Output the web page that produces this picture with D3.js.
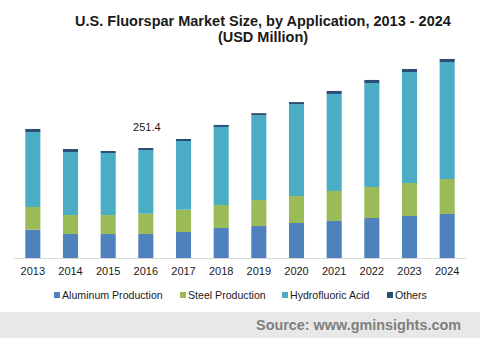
<!DOCTYPE html>
<html><head><meta charset="utf-8">
<script src="https://cdn.jsdelivr.net/npm/d3@7"></script>
<style>body{margin:0;background:#fff;}svg{display:block;font-family:"Liberation Sans",Arial,sans-serif;}</style>
</head><body><svg id="c" width="480" height="338"></svg>
<script>
const years = ["2013","2014","2015","2016","2017","2018","2019","2020","2021","2022","2023","2024"];
const aluminum = [64.7, 54.8, 54.8, 54.8, 59.4, 68.6, 73.0, 80.0, 84.6, 91.4, 96.0, 100.6];
const steel = [51.9, 43.4, 43.4, 46.4, 51.0, 52.6, 59.4, 61.7, 68.6, 70.9, 75.4, 80.0];
const hydrofluoric = [171.4, 144.0, 141.7, 145.6, 157.0, 178.3, 194.0, 210.0, 221.7, 237.7, 253.7, 267.4];
const others = [6.9, 6.9, 4.6, 4.6, 4.6, 4.6, 4.6, 4.6, 6.9, 6.9, 6.9, 6.9];
const seriesNames = ["Aluminum Production", "Steel Production", "Hydrofluoric Acid", "Others"];
const colors = ["#4f81bd", "#9bbb59", "#4bacc6", "#2c4d75"];
const annotation = {year: "2016", text: "251.4"};

const svg = d3.select("#c");
const table = years.map((y, i) => ({year: y, a: aluminum[i], s: steel[i], h: hydrofluoric[i], o: others[i]}));
const keys = ["a", "s", "h", "o"];
const stacked = d3.stack().keys(keys)(table);

const x = d3.scaleBand().domain(years).range([14, 466]).paddingInner(0.6).paddingOuter(0.3);
const y = d3.scaleLinear().domain([0, 251.4]).range([258, 148]);

svg.append("text").attr("x", 263).attr("y", 26).attr("text-anchor", "middle")
  .attr("font-size", 14.5).attr("font-weight", "bold").attr("fill", "#1a1a1a")
  .text("U.S. Fluorspar Market Size, by Application, 2013 - 2024");
svg.append("text").attr("x", 263).attr("y", 42).attr("text-anchor", "middle")
  .attr("font-size", 14.5).attr("font-weight", "bold").attr("fill", "#1a1a1a")
  .text("(USD Million)");

svg.selectAll("g.layer").data(stacked).enter().append("g").attr("class", "layer")
  .attr("fill", (d, i) => colors[i])
  .selectAll("rect").data(d => d).enter().append("rect")
  .attr("x", d => x(d.data.year))
  .attr("width", x.bandwidth())
  .attr("y", d => y(d[1]))
  .attr("height", d => y(d[0]) - y(d[1]));

const xAxis = svg.append("g").attr("transform", "translate(0,258)")
  .call(d3.axisBottom(x).tickSize(0).tickPadding(9));
xAxis.select(".domain").attr("stroke", "#d9d9d9").attr("d", "M14,0.5H466");
xAxis.selectAll("text").attr("font-size", 11).attr("fill", "#1a1a1a")
  .attr("font-family", "'Liberation Sans',Arial,sans-serif");

const ai = years.indexOf(annotation.year);
const tot = aluminum[ai] + steel[ai] + hydrofluoric[ai] + others[ai];
svg.append("text").attr("x", x(annotation.year) + x.bandwidth() / 2 + 1).attr("y", y(tot) - 17)
  .attr("text-anchor", "middle").attr("font-size", 11).attr("fill", "#1a1a1a").text(annotation.text);

// legend
const legX = [54, 180, 282, 387];
const lg = svg.append("g");
seriesNames.forEach((n, i) => {
  lg.append("rect").attr("x", legX[i]).attr("y", 292).attr("width", 6).attr("height", 6).attr("fill", colors[i]);
  lg.append("text").attr("x", legX[i] + 8).attr("y", 299).attr("font-size", 10.6).attr("fill", "#1a1a1a").text(n);
});

// footer
svg.append("rect").attr("x", 0).attr("y", 312).attr("width", 480).attr("height", 26).attr("fill", "#e8e8e8");
svg.append("text").attr("x", 461).attr("y", 330).attr("text-anchor", "end")
  .attr("font-size", 14.4).attr("font-weight", "bold").attr("fill", "#7f7f7f").text("Source: www.gminsights.com");
</script></body></html>
